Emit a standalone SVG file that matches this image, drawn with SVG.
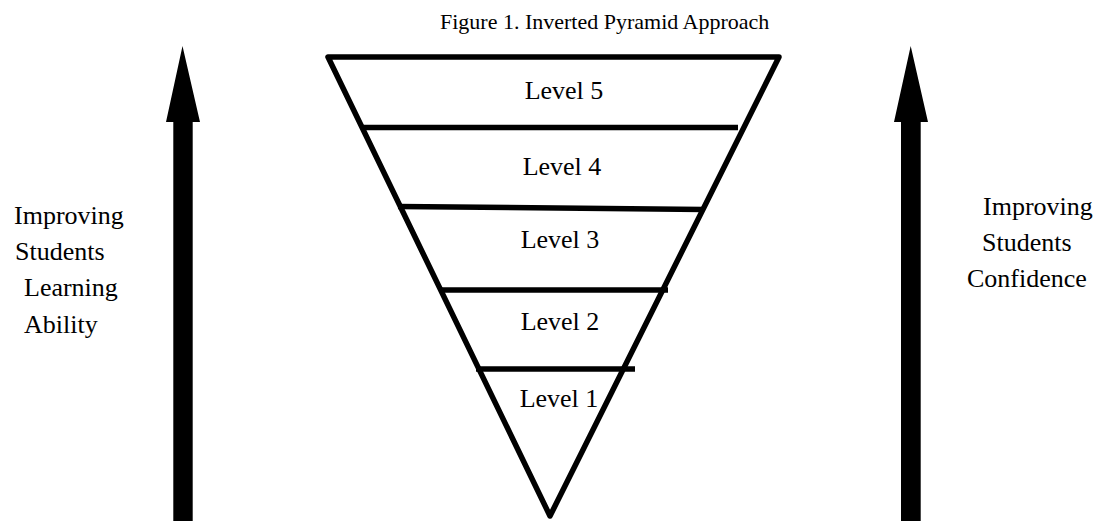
<svg xmlns="http://www.w3.org/2000/svg" width="1099" height="521" viewBox="0 0 1099 521">
<style>
text{font-family:"Liberation Serif","Times New Roman",serif;fill:#000}
.lbl{font-size:26px}
.ttl{font-size:22px}
.edge{fill:none;stroke:#000;stroke-width:5.5;stroke-linejoin:round}
.div{stroke:#000;stroke-width:5.5}
.arrow{fill:#000}
</style>
<rect width="1099" height="521" fill="#fff"/>
<text class="ttl" x="440" y="29">Figure 1. Inverted Pyramid Approach</text>
<g id="arrow-left">
<polygon class="arrow" points="182.5,46 200,122 192.7,122 192.7,521 173.3,521 173.3,122 166,122"/>
</g>
<g id="arrow-right">
<polygon class="arrow" points="910.7,46 928,122 920.7,122 920.7,521 901,521 901,122 894,122"/>
</g>
<g id="pyramid">
<path class="edge" d="M328,57 L779,57 L550,516 Z"/>
</g>
<g id="connectors">
<line class="div" x1="362" y1="127.5" x2="738" y2="127.5"/>
<line class="div" x1="398" y1="206.5" x2="704" y2="209.5"/>
<line class="div" x1="439" y1="290" x2="668" y2="290"/>
<line class="div" x1="476" y1="369" x2="635" y2="369"/>
</g>
<g id="level5"><text class="lbl" x="564" y="99" text-anchor="middle">Level 5</text></g>
<g id="level4"><text class="lbl" x="562" y="175" text-anchor="middle">Level 4</text></g>
<g id="level3"><text class="lbl" x="560" y="248" text-anchor="middle">Level 3</text></g>
<g id="level2"><text class="lbl" x="560" y="330" text-anchor="middle">Level 2</text></g>
<g id="level1"><text class="lbl" x="559" y="407" text-anchor="middle">Level 1</text></g>
<g id="left-label">
<text class="lbl" x="14" y="224">Improving</text>
<text class="lbl" x="15" y="260">Students</text>
<text class="lbl" x="24" y="296">Learning</text>
<text class="lbl" x="24" y="333">Ability</text>
</g>
<g id="right-label">
<text class="lbl" x="983" y="215">Improving</text>
<text class="lbl" x="982" y="251">Students</text>
<text class="lbl" x="967" y="287">Confidence</text>
</g>
</svg>
